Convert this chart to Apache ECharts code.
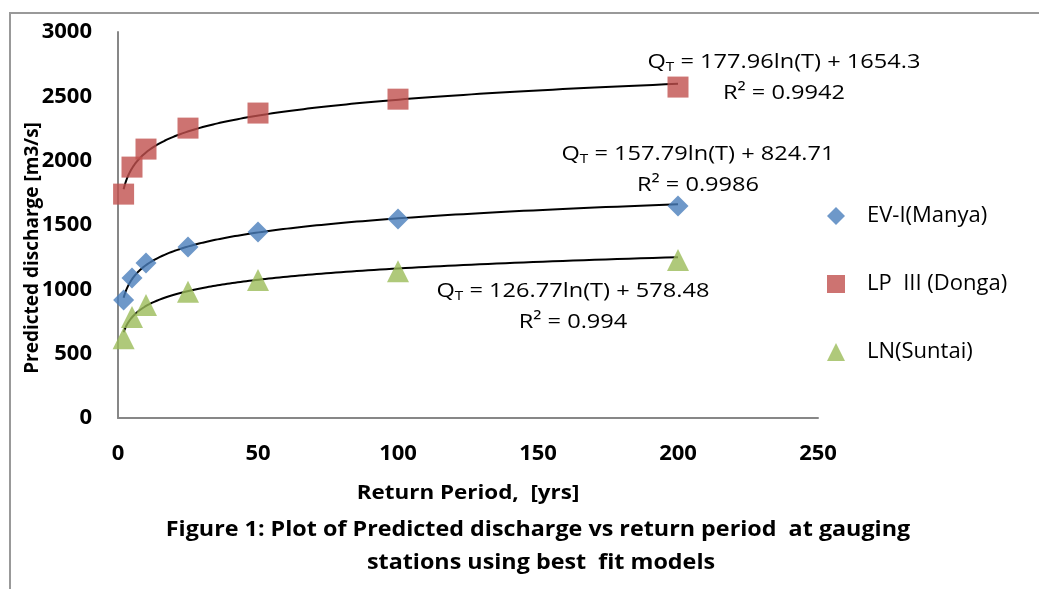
<!DOCTYPE html>
<html><head><meta charset="utf-8">
<script src="https://cdn.jsdelivr.net/npm/echarts@6/dist/echarts.min.js"></script>
<style>html,body{margin:0;padding:0;background:#fff}#c{width:1039px;height:589px}</style>
</head><body><div id="c"></div>
<script>
// Return periods (years)
const periods = [2, 5, 10, 25, 50, 100, 200];
// Predicted discharges (m3/s)
const manya = [917, 1088, 1204, 1329, 1445, 1546, 1647];
const donga = [1740, 1950, 2090, 2253, 2370, 2478, 2572];
const suntai = [620, 785, 878, 982, 1072, 1140, 1228];
const seriesNames = ['EV-I(Manya)', 'LP  III (Donga)', 'LN(Suntai)'];
// Logarithmic trendline coefficients as printed on chart: Q = a ln(T) + b
const fitManya = [157.79, 824.71];
const fitDonga = [177.96, 1654.3];
const fitSuntai = [126.77, 578.48];
const r2 = ['0.9986', '0.9942', '0.994'];

function trend(c) {
  const pts = [];
  const tMin = periods[0], tMax = periods[periods.length - 1];
  for (let i = 0; i <= 200; i++) {
    const t = tMin * Math.pow(tMax / tMin, i / 200);
    pts.push([t, c[0] * Math.log(t) + c[1]]);
  }
  return pts;
}
const pair = (v) => periods.map((t, i) => [t, v[i]]);

const chart = echarts.init(document.getElementById('c'), null, {renderer: 'canvas'});
const font = '"Open Sans", sans-serif';
const trendStyle = {type: 'line', showSymbol: false, symbol: 'none', smooth: false,
  lineStyle: {color: '#000', width: 2}, silent: true, z: 1};
const eqRich = {
  n: {fontSize: 20, fontFamily: font, color: '#000'},
  s: {fontSize: 13, fontFamily: font, color: '#000', padding: [10, 0, 0, 0]}
};
const SX = 1.18;
function eqText(x, y, c, r) {
  return [
    {type: 'text', x: x, y: y, scaleX: SX, style: {rich: eqRich, text: '{n|Q}{s|T}{n| = ' + c[0] + 'ln(T) + ' + c[1] + '}', align: 'center', verticalAlign: 'middle'}},
    {type: 'text', x: x, y: y + 31, scaleX: SX, style: {text: 'R² = ' + r, font: '20px ' + font, fill: '#000', align: 'center', verticalAlign: 'middle'}}
  ];
}
const plain = (v) => String(v);

chart.setOption({
  animation: false,
  backgroundColor: '#fff',
  grid: {left: 118, right: 221, top: 32, bottom: 171, containLabel: false},
  xAxis: {
    type: 'value', min: 0, max: 250, interval: 50,
    axisLine: {show: true, onZero: false, lineStyle: {color: '#878787', width: 2}},
    axisTick: {show: false},
    splitLine: {show: false},
    axisLabel: {fontWeight: 'bold', fontSize: 22, fontFamily: font, color: '#000', margin: 25, formatter: plain}
  },
  yAxis: {
    type: 'value', min: 0, max: 3000, interval: 500,
    axisLine: {show: true, lineStyle: {color: '#878787', width: 2}},
    axisTick: {show: false},
    splitLine: {show: false},
    axisLabel: {fontWeight: 'bold', fontSize: 22, fontFamily: font, color: '#000', margin: 26, formatter: plain}
  },
  legend: {
    orient: 'vertical', left: 822, top: 200, itemGap: 46, itemWidth: 18, itemHeight: 18,
    textStyle: {fontSize: 22, fontFamily: font, color: '#000', padding: [0, 0, 0, 17]},
    data: [
      {name: seriesNames[0], icon: 'diamond'},
      {name: seriesNames[1], icon: 'rect'},
      {name: seriesNames[2], icon: 'triangle'}
    ]
  },
  series: [
    {name: seriesNames[0], type: 'scatter', data: pair(manya), symbol: 'diamond', symbolSize: 21,
      itemStyle: {color: '#4a7ebb'}, z: 2},
    {name: seriesNames[1], type: 'scatter', data: pair(donga), symbol: 'rect', symbolSize: 21,
      itemStyle: {color: '#c0504d'}, z: 2},
    {name: seriesNames[2], type: 'scatter', data: pair(suntai), symbol: 'triangle', symbolSize: 22,
      itemStyle: {color: '#9bbb59'}, z: 2},
    Object.assign({name: 'trendManya', data: trend(fitManya)}, trendStyle),
    Object.assign({name: 'trendDonga', data: trend(fitDonga)}, trendStyle),
    Object.assign({name: 'trendSuntai', data: trend(fitSuntai)}, trendStyle)
  ],
  graphic: [
    {type: 'polyline', shape: {points: [[10, 589], [10, 13], [1039, 13]]}, style: {stroke: '#999', lineWidth: 2, fill: null}},
    {type: 'text', x: 33, y: 248, rotation: Math.PI / 2,
      style: {text: 'Predicted discharge [m3/s]', font: 'bold 19px ' + font, fill: '#000', align: 'center', verticalAlign: 'middle'}},
    {type: 'text', x: 468, y: 494, scaleX: SX,
      style: {text: 'Return Period,  [yrs]', font: 'bold 19px ' + font, fill: '#000', align: 'center', verticalAlign: 'middle'}},
    ...eqText(784, 62, fitDonga, r2[1]),
    ...eqText(698, 154, fitManya, r2[0]),
    ...eqText(573, 291, fitSuntai, r2[2]),
    {type: 'text', x: 538, y: 530, scaleX: 1.11, style: {text: 'Figure 1: Plot of Predicted discharge vs return period  at gauging', font: 'bold 21px ' + font, fill: '#000', align: 'center', verticalAlign: 'middle'}},
    {type: 'text', x: 541, y: 563, scaleX: 1.11, style: {text: 'stations using best  fit models', font: 'bold 21px ' + font, fill: '#000', align: 'center', verticalAlign: 'middle'}}
  ]
});
</script></body></html>
